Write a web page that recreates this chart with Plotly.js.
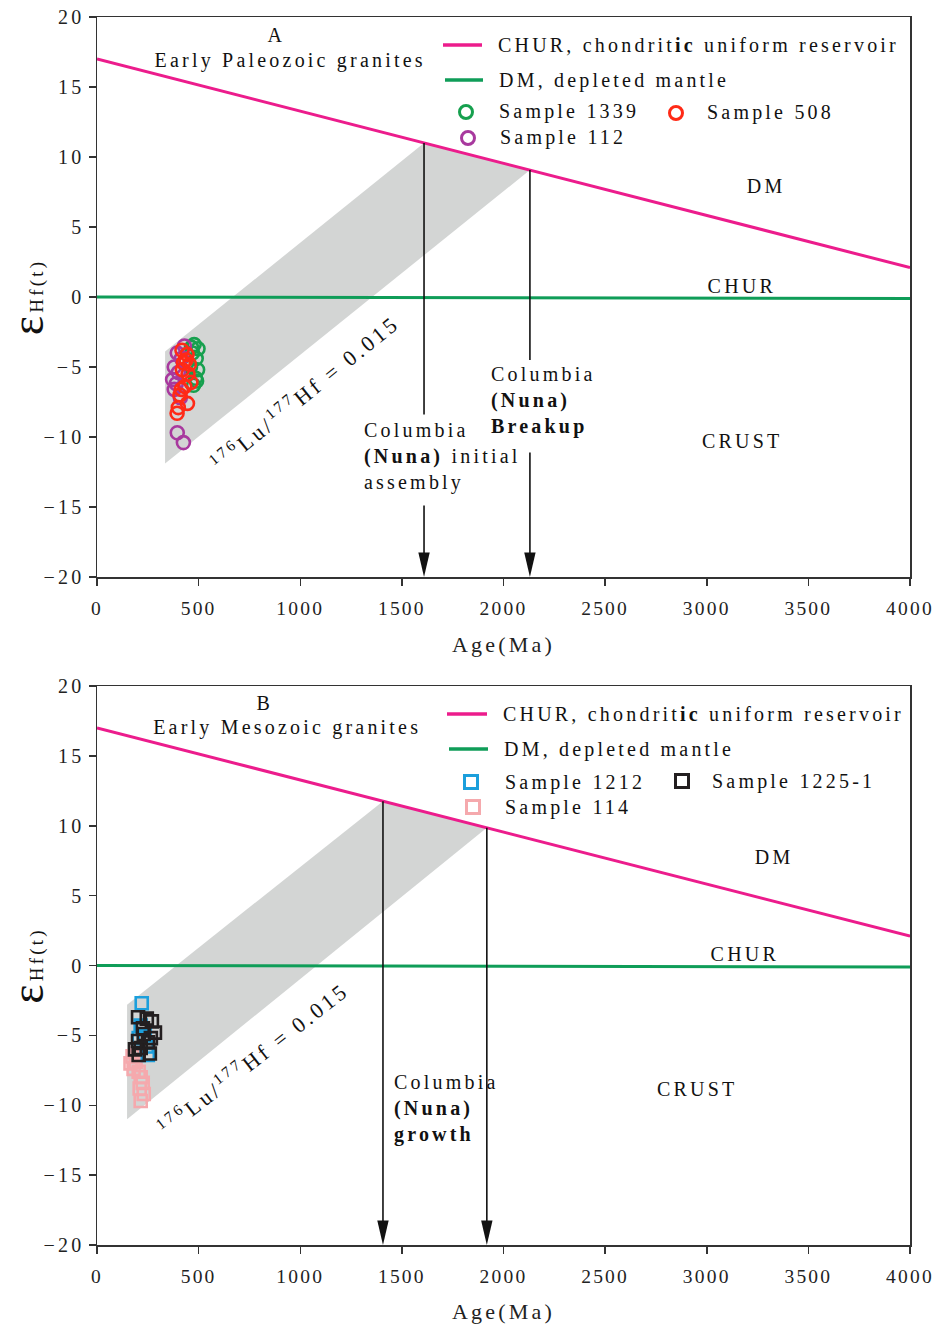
<!DOCTYPE html>
<html>
<head>
<meta charset="utf-8">
<script src="https://cdn.plot.ly/plotly-3.0.1.min.js"></script>
<style>
html,body{margin:0;padding:0;background:#fff;}
#chart{width:934px;height:1324px;}
.main-svg text{letter-spacing:3.2px;}
.main-svg .xtick text, .main-svg .x2tick text{letter-spacing:2.2px;}
</style>
</head>
<body>
<div id="chart"></div>
<script>
// ---------- data ----------
const ageTicks = [0, 500, 1000, 1500, 2000, 2500, 3000, 3500, 4000];
const epsTicks = [-20, -15, -10, -5, 0, 5, 10, 15, 20];

const refAge = [0, 4000];
const pinkLineEps = [17.0, 2.1];     // labelled "CHUR, chondritic uniform reservoir"
const greenLineEps = [0.0, -0.1];    // labelled "DM, depleted mantle"
const pinkName = 'CHUR, chondrit<b>ic</b> uniform reservoir';
const greenName = 'DM, depleted mantle';

// 176Lu/177Hf = 0.015 evolution bands
const bandA_age = [335, 1609, 2130, 335];
const bandA_eps = [-3.9, 11.0, 9.07, -11.9];
const bandB_age = [148, 1407, 1918, 148];
const bandB_eps = [-2.8, 11.76, 9.86, -11.0];

// Columbia (Nuna) arrows
const arrowA_age = [1609, 2130];
const arrowA_top = [11.0, 9.07];
const arrowA_gapTop = [-8.4, -4.5];
const arrowA_gapBottom = [-14.9, -11.1];
const arrowB_age = [1407, 1918];
const arrowB_top = [11.76, 9.86];

// Panel A samples (circles)
const s1339_age = [497, 478, 488, 495, 470, 485, 475, 460, 490, 465];
const s1339_eps = [-3.7, -3.4, -4.4, -5.2, -4.0, -5.8, -6.3, -5.0, -6.0, -3.6];
const s112_age = [430, 395, 380, 372, 380, 400, 410, 395, 425, 415, 390];
const s112_eps = [-3.5, -4.0, -5.0, -5.9, -6.6, -5.4, -7.2, -9.7, -10.4, -4.4, -6.2];
const s508_age = [418, 443, 425, 448, 462, 432, 408, 445, 400, 394, 420, 438, 455, 415];
const s508_eps = [-3.8, -4.1, -4.7, -5.5, -6.1, -6.4, -7.0, -7.6, -7.9, -8.3, -5.2, -4.5, -4.8, -6.6];

// Panel B samples (squares)
const s114_age = [175, 190, 180, 205, 215, 225, 210, 230, 215, 165, 200];
const s114_eps = [-6.5, -6.9, -7.4, -7.6, -8.0, -8.4, -8.8, -9.2, -9.7, -7.0, -6.3];
const s1212_age = [220, 250, 235, 215, 245, 205];
const s1212_eps = [-2.7, -6.4, -5.0, -4.3, -5.8, -5.2];
const s1225_age = [202, 245, 270, 285, 226, 202, 251, 187, 260, 205, 230, 265, 215];
const s1225_eps = [-3.7, -3.8, -4.0, -4.8, -4.5, -5.4, -5.5, -6.0, -6.3, -6.4, -4.9, -5.2, -5.9];

const sampleNamesA = ['Sample 1339', 'Sample 508', 'Sample 112'];
const sampleNamesB = ['Sample 1212', 'Sample 1225-1', 'Sample 114'];

// ---------- style ----------
const FONT = 'Liberation Serif, Times New Roman, serif';
const PINK = '#ec1c8c', GREEN = '#0f9d58';
const C1339 = '#16a04e', C508 = '#ff2a16', C112 = '#a8399e';
const C1212 = '#1b9fdc', C1225 = '#231f20', C114 = '#f5a9ad';
const BAND = '#d3d5d4';
const W = 934, H = 1324;
const px = v => v / W, py = v => 1 - v / H;

const traces = [];
function panel(xa, ya, bandAge, bandEps) {
  traces.push({x: bandAge, y: bandEps, xaxis: xa, yaxis: ya, mode: 'lines', fill: 'toself',
    fillcolor: BAND, line: {width: 0, color: BAND}, hoverinfo: 'skip', showlegend: false});
  traces.push({x: refAge, y: greenLineEps, xaxis: xa, yaxis: ya, mode: 'lines', name: greenName,
    line: {color: GREEN, width: 3}, showlegend: false});
  traces.push({x: refAge, y: pinkLineEps, xaxis: xa, yaxis: ya, mode: 'lines', name: pinkName,
    line: {color: PINK, width: 3}, showlegend: false});
}
function arrowHead(xa, ya, age) {
  const hw = 28, h = 1.75;
  traces.push({x: [age - hw, age + hw, age, age - hw], y: [-20 + h, -20 + h, -20, -20 + h],
    xaxis: xa, yaxis: ya, mode: 'lines', fill: 'toself', fillcolor: '#111',
    line: {width: 0, color: '#111'}, hoverinfo: 'skip', showlegend: false});
}
function seg(xa, ya, age, y0, y1) {
  traces.push({x: [age, age], y: [y0, y1], xaxis: xa, yaxis: ya, mode: 'lines',
    line: {color: '#111', width: 1.6}, hoverinfo: 'skip', showlegend: false});
}
function pts(xa, ya, xs, ys, name, color, symbol, size) {
  traces.push({x: xs, y: ys, xaxis: xa, yaxis: ya, mode: 'markers', name: name, showlegend: false,
    marker: {symbol: symbol, size: size, color: 'rgba(0,0,0,0)', line: {color: color, width: 2.6}}});
}

// Panel A
panel('x', 'y', bandA_age, bandA_eps);
arrowA_age.forEach((a, i) => {
  seg('x', 'y', a, arrowA_top[i], arrowA_gapTop[i]);
  seg('x', 'y', a, arrowA_gapBottom[i], -19);
  arrowHead('x', 'y', a);
});
pts('x', 'y', s1339_age, s1339_eps, sampleNamesA[0], C1339, 'circle', 13);
pts('x', 'y', s112_age, s112_eps, sampleNamesA[2], C112, 'circle', 13);
pts('x', 'y', s508_age, s508_eps, sampleNamesA[1], C508, 'circle', 13);

// Panel B
panel('x2', 'y2', bandB_age, bandB_eps);
arrowB_age.forEach((a, i) => {
  seg('x2', 'y2', a, arrowB_top[i], -19);
  arrowHead('x2', 'y2', a);
});
pts('x2', 'y2', s114_age, s114_eps, sampleNamesB[2], C114, 'square', 12);
pts('x2', 'y2', s1212_age, s1212_eps, sampleNamesB[0], C1212, 'square', 12);
pts('x2', 'y2', s1225_age, s1225_eps, sampleNamesB[1], C1225, 'square', 12);

// ---------- axes ----------
const xDom = [px(97), px(910)];
function xax(anchor) {
  return {domain: xDom, anchor: anchor, range: [0, 4000], tickvals: ageTicks,
    showline: true, mirror: true, linecolor: '#333', linewidth: 1.5,
    ticks: 'outside', ticklen: 7, tickwidth: 1.5, tickcolor: '#333', ticklabelstandoff: 6,
    showgrid: false, zeroline: false, tickfont: {family: FONT, size: 19.5, color: '#222'},
    title: {text: 'Age(Ma)', font: {family: FONT, size: 22, color: '#222'}, standoff: 18}};
}
function yax(anchor, top, bottom) {
  return {domain: [py(bottom), py(top)], anchor: anchor, range: [-20, 20], tickvals: epsTicks,
    showline: true, mirror: true, linecolor: '#333', linewidth: 1.5,
    ticks: 'outside', ticklen: 7, tickwidth: 1.5, tickcolor: '#333',
    showgrid: false, zeroline: false, tickfont: {family: FONT, size: 20, color: '#222'},
    title: {text: "<span style='font-size:46px'>ε</span>Hf(t)", font: {family: FONT, size: 19, color: '#111'}, standoff: 4}};
}

// ---------- annotations & legend decorations ----------
const ann = [], shapes = [];
function txt(xref, yref, x, y, text, opts) {
  ann.push(Object.assign({xref: xref, yref: yref, x: x, y: y, text: text, showarrow: false,
    font: {family: FONT, size: 20, color: '#111'}}, opts || {}));
}
function legLine(x0, x1, y, color, label) {
  shapes.push({type: 'line', xref: 'paper', yref: 'paper', x0: px(x0), x1: px(x1), y0: py(y), y1: py(y),
    line: {color: color, width: 3.5}});
  txt('paper', 'paper', px(x1 + 14), py(y), label, {xanchor: 'left', yanchor: 'middle', align: 'left'});
}
function legMark(cx, cy, type, color, label, tx) {
  const r = 6.5;
  shapes.push({type: type, xref: 'paper', yref: 'paper', x0: px(cx - r), x1: px(cx + r),
    y0: py(cy + r), y1: py(cy - r), line: {color: color, width: 3}});
  txt('paper', 'paper', px(tx), py(cy), label, {xanchor: 'left', yanchor: 'middle', align: 'left'});
}

// Panel A texts
txt('x', 'y', 881, 18.7, 'A');
txt('x', 'y', 950, 16.9, 'Early Paleozoic granites');
txt('x', 'y', 3291, 7.9, 'DM');
txt('x', 'y', 3173, 0.8, 'CHUR');
txt('x', 'y', 3173, -10.3, 'CRUST');
txt('x', 'y', 1304, -11.4, 'Columbia<br><b>(Nuna)</b> initial<br>assembly', {xanchor: 'left', align: 'left'});
txt('x', 'y', 1929, -7.4, 'Columbia<br><b>(Nuna)</b><br><b>Breakup</b>', {xanchor: 'left', align: 'left'});
txt('x', 'y', 1023, -6.8, '<sup>176</sup>Lu/<sup>177</sup>Hf = 0.015', {textangle: -39, font: {family: FONT, size: 22, color: '#111'}});
legLine(443, 482, 45, PINK, pinkName);
legLine(445, 483, 80, GREEN, greenName);
legMark(466, 112, 'circle', C1339, sampleNamesA[0], 497);
legMark(676, 113, 'circle', C508, sampleNamesA[1], 705);
legMark(468, 138, 'circle', C112, sampleNamesA[2], 498);

// Panel B texts
txt('x2', 'y2', 822, 18.8, 'B');
txt('x2', 'y2', 935, 17.0, 'Early Mesozoic granites');
txt('x2', 'y2', 3331, 7.8, 'DM');
txt('x2', 'y2', 3188, 0.8, 'CHUR');
txt('x2', 'y2', 2952, -8.85, 'CRUST');
txt('x2', 'y2', 1451, -10.2, 'Columbia<br><b>(Nuna)</b><br><b>growth</b>', {xanchor: 'left', align: 'left'});
txt('x2', 'y2', 767, -6.6, '<sup>176</sup>Lu/<sup>177</sup>Hf = 0.015', {textangle: -38, font: {family: FONT, size: 22, color: '#111'}});
legLine(447, 487, 714, PINK, pinkName);
legLine(449, 488, 749, GREEN, greenName);
legMark(471, 782, 'rect', C1212, sampleNamesB[0], 503);
legMark(682, 781, 'rect', C1225, sampleNamesB[1], 710);
legMark(473, 807, 'rect', C114, sampleNamesB[2], 503);

const layout = {
  width: W, height: H,
  margin: {l: 0, r: 0, t: 0, b: 0},
  paper_bgcolor: '#fff', plot_bgcolor: '#fff',
  showlegend: false,
  font: {family: FONT, color: '#111'},
  xaxis: xax('y'), yaxis: yax('x', 17, 577),
  xaxis2: xax('y2'), yaxis2: yax('x2', 686, 1245),
  annotations: ann, shapes: shapes
};

Plotly.newPlot('chart', traces, layout, {displayModeBar: false, staticPlot: true});
</script>
</body>
</html>
